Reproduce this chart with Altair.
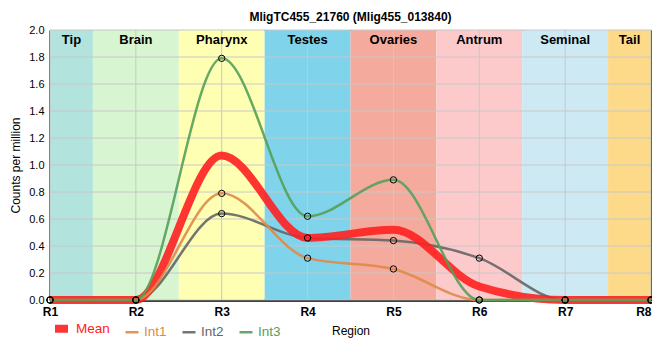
import altair as alt
import pandas as pd

# ---- data ----
regions = ["R1", "R2", "R3", "R4", "R5", "R6", "R7", "R8"]
positions = [1, 2, 3, 4, 5, 6, 7, 8]
int1 = [0, 0, 0.79, 0.31, 0.23, 0, 0, 0]
int2 = [0, 0, 0.64, 0.46, 0.44, 0.31, 0, 0]
int3 = [0, 0, 1.79, 0.62, 0.89, 0, 0, 0]
mean = [0, 0, 1.07, 0.46, 0.52, 0.10, 0, 0]

band_names = ["Tip", "Brain", "Pharynx", "Testes", "Ovaries", "Antrum", "Seminal", "Tail"]
band_start = [1, 1.5, 2.5, 3.5, 4.5, 5.5, 6.5, 7.5]
band_end = [1.5, 2.5, 3.5, 4.5, 5.5, 6.5, 7.5, 8]
band_colors = ["#b3e3dd", "#d7f5d0", "#ffffb4", "#7fd3ea", "#f4aa9c", "#fdcacb", "#cdeaf4", "#fdd98a"]

y_ticks = [0, 0.2, 0.4, 0.6, 0.8, 1.0, 1.2, 1.4, 1.6, 1.8, 2.0]

series_names = ["Mean", "Int1", "Int2", "Int3"]
series_colors = ["#ff2020", "#e08a48", "#666666", "#55a05a"]
series_widths = [8, 2.5, 2.5, 2.5]

# ---- tables ----
bands = pd.DataFrame({"name": band_names, "start": band_start, "end": band_end, "fill": band_colors})
bands["mid"] = (bands["start"] + bands["end"]) / 2

rows = []
for name, vals in [("Int2", int2), ("Mean", mean), ("Int1", int1), ("Int3", int3)]:
    for p, r, v in zip(positions, regions, vals):
        rows.append({"series": name, "x": p, "region": r, "value": v})
lines_df = pd.DataFrame(rows)
points_df = lines_df[lines_df["series"] != "Mean"]

xgrid = pd.DataFrame({"x": positions})
ygrid = pd.DataFrame({"y": y_ticks})

xscale = alt.Scale(domain=[1, 8], nice=False, zero=False)
yscale = alt.Scale(domain=[0, 2], nice=False, zero=False)

xaxis = alt.Axis(
    values=positions,
    labelExpr="'R' + datum.value",
    title="Region",
    grid=False,
    ticks=False,
    labelFlush=False,
    labelAlign=alt.ExprRef("datum.value == 8 ? 'right' : 'center'"),
    labelFontWeight="bold",
    labelFontSize=12,
    labelPadding=6,
    titleFontWeight="normal",
    titleFontSize=12,
    titlePadding=8,
)
yaxis = alt.Axis(
    values=y_ticks,
    format=".1f",
    title="Counts per million",
    grid=False,
    ticks=False,
    labelFlush=False,
    labelFontSize=11,
    labelPadding=6,
    titleFontWeight="normal",
    titleFontSize=12,
    titlePadding=6,
)

band_layer = alt.Chart(bands).mark_rect().encode(
    x=alt.X("start:Q", scale=xscale, axis=xaxis),
    x2="end:Q",
    color=alt.Color("fill:N", scale=None),
)

vgrid = alt.Chart(xgrid).mark_rule(color="#c8c8c8", strokeWidth=1).encode(
    x=alt.X("x:Q", scale=xscale, axis=xaxis)
)
hgrid = alt.Chart(ygrid).mark_rule(color="#c8c8c8", strokeWidth=1).encode(
    y=alt.Y("y:Q", scale=yscale, axis=yaxis)
)

band_text = alt.Chart(bands).mark_text(
    font="Liberation Sans", fontSize=13, fontWeight="bold", baseline="top", dy=4, color="black"
).encode(
    x=alt.X("mid:Q", scale=xscale, axis=xaxis),
    y=alt.YDatum(2.0, scale=yscale, axis=yaxis),
    text="name:N",
)

legend = alt.Legend(
    orient="none",
    legendX=1,
    legendY=288,
    direction="horizontal",
    title=None,
    symbolType="stroke",
    symbolSize=169,
    labelFontSize=13.5,
    labelFont="Liberation Sans",
    labelColor=alt.ExprRef("scale('color', datum.value)"),
    columnPadding=10,
    labelOffset=4,
)

lines = alt.Chart(lines_df).mark_line(interpolate="monotone", opacity=0.9).encode(
    x=alt.X("x:Q", scale=xscale, axis=xaxis),
    y=alt.Y("value:Q", scale=yscale, axis=yaxis),
    color=alt.Color(
        "series:N",
        scale=alt.Scale(domain=series_names, range=series_colors),
        legend=legend,
    ),
    strokeWidth=alt.StrokeWidth(
        "series:N",
        scale=alt.Scale(type="ordinal", domain=series_names, range=series_widths),
        legend=legend,
    ),
    detail="series:N",
)

points = alt.Chart(points_df).mark_point(
    shape="circle", size=40, filled=False, color="black", strokeWidth=1, opacity=1
).encode(
    x=alt.X("x:Q", scale=xscale, axis=xaxis),
    y=alt.Y("value:Q", scale=yscale, axis=yaxis),
)

chart = alt.layer(band_layer, vgrid, hgrid, band_text, lines, points).properties(
    width=601,
    height=270,
    title=alt.Title(
        text="MligTC455_21760 (Mlig455_013840)",
        fontSize=12,
        fontWeight="bold",
        font="Liberation Sans",
        anchor="middle",
        offset=0,
        color="black",
    ),
    autosize=alt.AutoSizeParams(type="none"),
    padding={"left": 42, "top": 22, "right": 1, "bottom": 46},
).configure(
    font="Liberation Sans"
).configure_axis(
    domainColor="black",
    domainWidth=2.5,
    labelColor="black",
    titleColor="black",
    labelFont="Liberation Sans",
    titleFont="Liberation Sans",
).configure_view(
    stroke="black", strokeWidth=1
)

chart.save("out.html", embed_options={"renderer": "svg", "actions": False})
